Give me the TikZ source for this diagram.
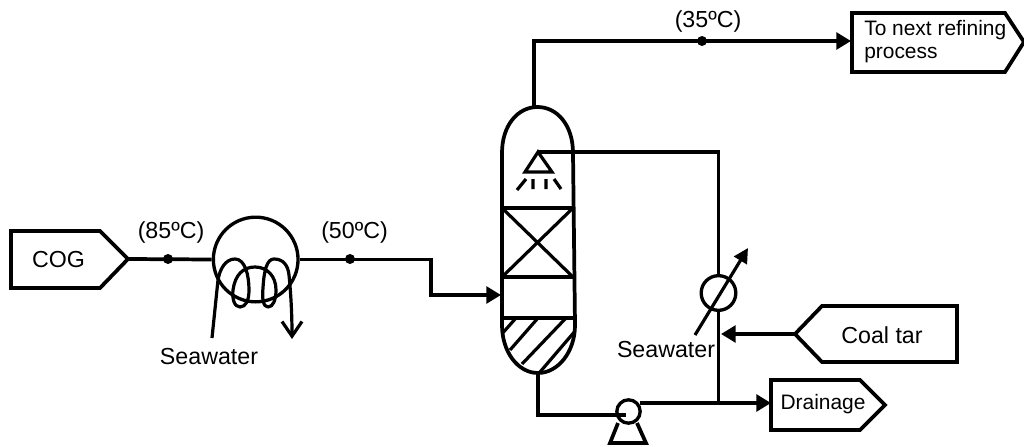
\documentclass[tikz,border=0pt]{standalone}
\usepackage{fontspec}
\setmainfont{Liberation Sans}
\usetikzlibrary{arrows.meta}
\tikzset{
  x=0.75pt,y=-0.75pt,
  pipe/.style={line width=2.8pt,line join=miter},
  thin pipe/.style={line width=2.4pt},
  flow/.style={pipe,-{Triangle[length=11pt,width=12.5pt]}},
  flowthin/.style={thin pipe,-{Triangle[length=11pt,width=11pt]}},
  junctiondot/.style={circle,fill=black,inner sep=0pt,minimum size=7.5pt},
  vessel/.style={circle,draw,line width=2.5pt,inner sep=0pt,fill=white},
  lab/.style={inner sep=0pt,font=\fontsize{17.4pt}{20pt}\selectfont},
  smalllab/.style={inner sep=0pt,font=\fontsize{15.7pt}{19pt}\selectfont},
}
\begin{document}
\begin{tikzpicture}
\useasboundingbox (0,0) rectangle (1024,446);
% boxes
\draw[pipe] (11,231) -- (100,231) -- (128,259) -- (100,288) -- (11,288) -- cycle;
\coordinate (cogtip) at (128,259);
\node[lab] (cog) at (58.5,260) {COG};
\draw[pipe] (852,13) -- (1005,13) -- (1024,42) -- (1005,72) -- (852,72) -- cycle;
\coordinate (nextin) at (851,41);
\node[smalllab,anchor=west] (next1) at (864,30) {To next refining};
\node[smalllab,anchor=west] (next2) at (864,55) {process};
\draw[pipe] (795,334) -- (822,306) -- (957,306) -- (957,362) -- (822,362) -- cycle;
\coordinate (tartip) at (795,334);
\node[lab] (tar) at (882,335) {Coal tar};
\draw[pipe] (771,380) -- (860,380) -- (885,405) -- (860,430) -- (771,430) -- cycle;
\coordinate (drainin) at (771,403);
\node[smalllab] (drain) at (823,404) {Drainage};
% cooler
\node[vessel,minimum size=63.5pt] (cooler) at (255.7,259.5) {};
\draw[thin pipe,line join=round,-{Straight Barb[length=11pt,width=15pt,line width=2.4pt]}]
  (212,338) -- (218,280)
  .. controls (220,268) and (226,259) .. (235,259)
  .. controls (245,259) and (249,275) .. (249,290)
  .. controls (249,300) and (246,307) .. (240,307)
  .. controls (234,307) and (232,298) .. (233,290)
  .. controls (235,275) and (243,267) .. (255,267)
  .. controls (267,267) and (276,276) .. (276,290)
  .. controls (276,300) and (273,307) .. (268,307)
  .. controls (263,307) and (262,298) .. (263,288)
  .. controls (264,270) and (267,259) .. (274,259)
  .. controls (283,259) and (288,265) .. (289,275)
  .. controls (291,295) and (292,315) .. (292,339);
\node[lab] (sw1) at (209,357) {Seawater};
% column
\coordinate (coltop) at (534,107);
\coordinate (colfeed) at (501,295);
\coordinate (colbot) at (538,373);
\begin{scope}
\clip (503,318) -- (575,318) -- (575,325) .. controls (575,352) and (558,373) .. (538,373) .. controls (518,373) and (502,352) .. (502,325) -- cycle;
\draw[thin pipe] (500,336) -- (516,318);
\draw[thin pipe] (510,350) -- (538,318);
\draw[thin pipe] (522,364) -- (566,318);
\draw[thin pipe] (540,372) -- (576,330);
\end{scope}
\draw[pipe] (502,153) .. controls (502,125) and (518,107) .. (537.5,107) .. controls (557,107) and (573,125) .. (573,153) -- (575,325)
  .. controls (575,352) and (558,373) .. (538,373) .. controls (518,373) and (502,352) .. (502,325) -- cycle;
\draw[pipe] (502,208) -- (573,208) (502,277) -- (574,277) (502,318) -- (575,318);
\draw[thin pipe] (502,208) -- (573,277) (573,208) -- (502,277);
% spray
\draw[thin pipe] (538,152) -- (525,172) -- (552,172) -- cycle;
\draw[thin pipe] (517,190) -- (526,179) (533,179) -- (533,189) (546,179) -- (546,189) (554,179) -- (561,189);
\coordinate (spray) at (538,152);
% condenser and pump
\node[vessel,minimum size=26pt] (cond) at (718.5,293) {};
\node[vessel,minimum size=17.5pt] (pump) at (628.5,411.5) {};
\draw[pipe] (618,423) -- (610,443) -- (646,443) -- (637,423);
% dots
\node[junctiondot] (d85) at (168,259) {};
\node[junctiondot] (d50) at (350,259) {};
\node[junctiondot] (d35) at (702,41) {};
% pipes
\draw[pipe] (cogtip) -- (cooler.west);
\draw[flow] (cooler.east) -- (431,259.5) -- (431,295) -- (colfeed);
\draw[flow] (coltop) -- (534,41) -- (nextin);
\draw[pipe] (spray) -- (718.5,152) -- (cond.north);
\coordinate (junc) at (718.5,403);
\draw[pipe] (cond.south) -- (junc);
\draw[flow] (640,403) -- (drainin);
\draw[flow] (tartip) -- (721,334);
\draw[pipe] (colbot) -- (538,415) -- (626,415);
\coordinate (cd1) at (695,335);
\coordinate (cd2) at (748,248);
\draw[flowthin] (cd1) -- (cd2);
% labels
\node[lab] (t85) at (171,232) {(85ºC)};
\node[lab] (t50) at (354.5,232) {(50ºC)};
\node[lab] (t35) at (708,21) {(35ºC)};
\node[lab] (sw2) at (666,350) {Seawater};
\end{tikzpicture}
\end{document}
